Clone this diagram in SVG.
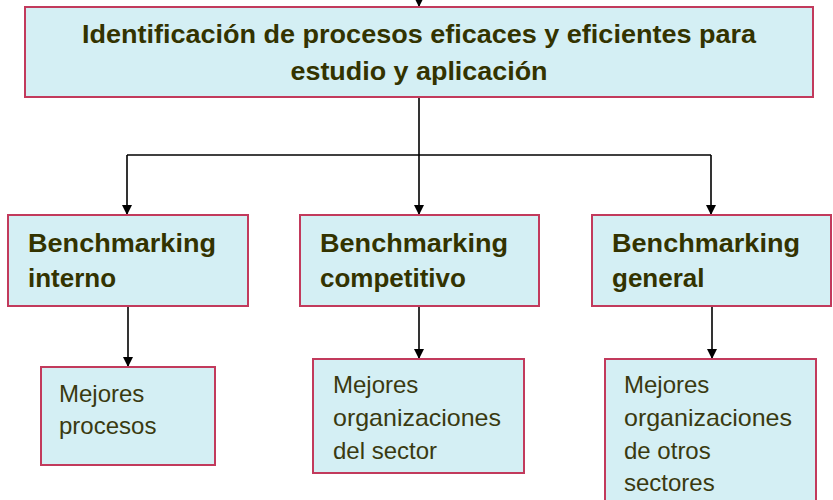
<svg xmlns="http://www.w3.org/2000/svg" width="833" height="500" viewBox="0 0 833 500">
<defs>
<style>
.box{fill:#d4eff4;stroke:#c23a5c;stroke-width:2}
.t1{font-family:"Liberation Sans",Arial,sans-serif;font-weight:bold;font-size:25.5px;fill:#333300}
.t2{font-family:"Liberation Sans",Arial,sans-serif;font-weight:bold;font-size:26px;fill:#333300}
.t3{font-family:"Liberation Sans",Arial,sans-serif;font-size:24px;fill:#3a3a10}
.c{stroke:#000;stroke-width:1.6;fill:none}
</style>
<marker id="ah" markerWidth="10" markerHeight="10" refX="10" refY="5" orient="auto" markerUnits="userSpaceOnUse">
<path d="M0,0 L10,5 L0,10 Z" fill="#000"/>
</marker>
</defs>
<rect width="833" height="500" fill="#fff"/>
<g id="connectors">
<path class="c" d="M419,-2 V7" marker-end="url(#ah)"/>
<path class="c" d="M419,97 V155"/>
<path class="c" d="M127,155 H711"/>
<path class="c" d="M127,155 V215" marker-end="url(#ah)"/>
<path class="c" d="M419,155 V215" marker-end="url(#ah)"/>
<path class="c" d="M711,155 V215" marker-end="url(#ah)"/>
<path class="c" d="M128,306 V367" marker-end="url(#ah)"/>
<path class="c" d="M419,306 V359" marker-end="url(#ah)"/>
<path class="c" d="M712,306 V359" marker-end="url(#ah)"/>
</g>
<g id="top">
<rect class="box" x="25" y="7" width="788" height="90"/>
<text class="t1" x="419" y="43" text-anchor="middle" textLength="674" lengthAdjust="spacingAndGlyphs">Identificación de procesos eficaces y eficientes para</text>
<text class="t1" x="419" y="80" text-anchor="middle" textLength="257" lengthAdjust="spacingAndGlyphs">estudio y aplicación</text>
</g>
<g id="bm-interno">
<rect class="box" x="8" y="215" width="240" height="91"/>
<text class="t2" x="28" y="252" textLength="188" lengthAdjust="spacingAndGlyphs">Benchmarking</text>
<text class="t2" x="28" y="287">interno</text>
</g>
<g id="bm-competitivo">
<rect class="box" x="300" y="215" width="239" height="91"/>
<text class="t2" x="320" y="252" textLength="188" lengthAdjust="spacingAndGlyphs">Benchmarking</text>
<text class="t2" x="320" y="287">competitivo</text>
</g>
<g id="bm-general">
<rect class="box" x="592" y="215" width="239" height="91"/>
<text class="t2" x="612" y="252" textLength="188" lengthAdjust="spacingAndGlyphs">Benchmarking</text>
<text class="t2" x="612" y="287">general</text>
</g>
<g id="mejores-procesos">
<rect class="box" x="41" y="367" width="174" height="98"/>
<text class="t3" x="59" y="402">Mejores</text>
<text class="t3" x="59" y="434">procesos</text>
</g>
<g id="mejores-sector">
<rect class="box" x="313" y="359" width="211" height="114"/>
<text class="t3" x="333" y="393">Mejores</text>
<text class="t3" x="333" y="426" textLength="168" lengthAdjust="spacingAndGlyphs">organizaciones</text>
<text class="t3" x="333" y="459">del sector</text>
</g>
<g id="mejores-otros">
<rect class="box" x="605" y="359" width="211" height="160"/>
<text class="t3" x="624" y="393">Mejores</text>
<text class="t3" x="624" y="426" textLength="168" lengthAdjust="spacingAndGlyphs">organizaciones</text>
<text class="t3" x="624" y="459">de otros</text>
<text class="t3" x="624" y="491">sectores</text>
</g>
</svg>
